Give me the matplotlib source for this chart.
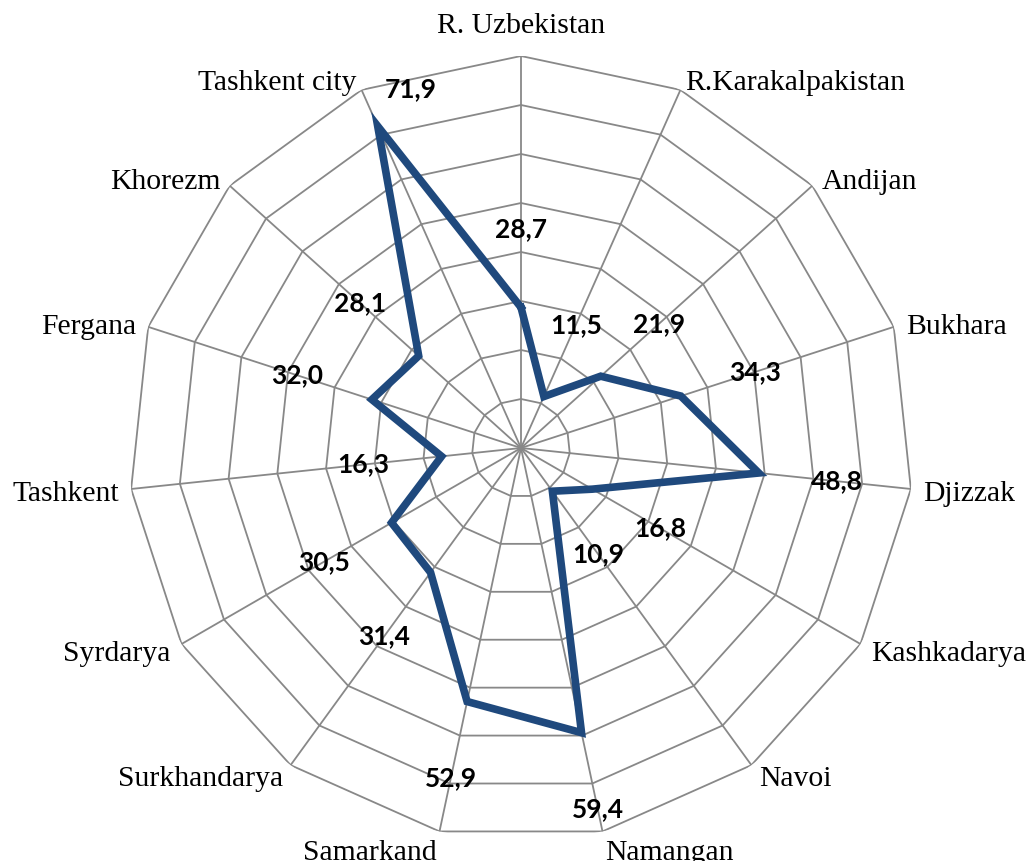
import numpy as np
import matplotlib
matplotlib.use("Agg")
import matplotlib.pyplot as plt

categories = ["R. Uzbekistan", "R.Karakalpakistan", "Andijan", "Bukhara", "Djizzak",
              "Kashkadarya", "Navoi", "Namangan", "Samarkand", "Surkhandarya",
              "Syrdarya", "Tashkent", "Fergana", "Khorezm", "Tashkent city"]
values = [28.7, 11.5, 21.9, 34.3, 48.8, 16.8, 10.9, 59.4, 52.9, 31.4,
          30.5, 16.3, 32.0, 28.1, 71.9]
value_labels = ["28,7", "11,5", "21,9", "34,3", "48,8", "16,8", "10,9", "59,4",
                "52,9", "31,4", "30,5", "16,3", "32,0", "28,1", "71,9"]
rings = [10, 20, 30, 40, 50, 60, 70, 80]

W, H = 1030, 861
fig = plt.figure(figsize=(W / 100, H / 100), dpi=100)
cx, cy, R = 521, 448, 392
ax = fig.add_axes([(cx - R) / W, (H - cy - R) / H, 2 * R / W, 2 * R / H], projection="polar")
ax.set_theta_zero_location("N")
ax.set_theta_direction(-1)
ax.set_ylim(0, rings[-1])
ax.grid(False)
ax.set_xticks([])
ax.set_yticks([])
ax.spines["polar"].set_visible(False)
ax.patch.set_alpha(0)

n = len(categories)
theta = np.arange(n) * 2 * np.pi / n
grid_c = "#888888"
for t in theta:
    ax.plot([t, t], [0, rings[-1]], color=grid_c, lw=1.3, zorder=1)
tc = np.append(theta, theta[0])
for r in rings:
    ax.plot(tc, [r] * (n + 1), color=grid_c, lw=1.3, zorder=1)

vc = values + [values[0]]
ax.plot(tc, vc, color="#1F497D", lw=5.5, solid_joinstyle="miter", zorder=3)

# category labels
for t, name in zip(theta, categories):
    s, c = np.sin(t), np.cos(t)
    if abs(s) < 0.1:
        ha = "center"
    elif s > 0:
        ha = "left"
    else:
        ha = "right"
    if c > 0.99:
        va, off = "bottom", (0, 12)
    elif c < -0.9:
        va, off = "top", (s * 10, -6)
    else:
        va, off = "center", (s * 9, c * 9 - 3)
    ax.annotate(name, xy=(t, rings[-1]), xytext=off, textcoords="offset points",
                ha=ha, va=va, fontsize=21.3, family="Liberation Serif",
                annotation_clip=False)

# value labels
for t, v, lab in zip(theta, values, value_labels):
    rl = v + 16
    if rl > rings[-1] - 2:
        ax.annotate(lab, xy=(t, v), xytext=(24, 27), textcoords="offset points",
                    ha="center", va="center", fontsize=19, fontweight="bold",
                    family="Lato", zorder=4, annotation_clip=False)
    else:
        ax.text(t, rl, lab, ha="center", va="center", fontsize=19,
                fontweight="bold", family="Lato", zorder=4)

fig.savefig("out.png", dpi=100)
